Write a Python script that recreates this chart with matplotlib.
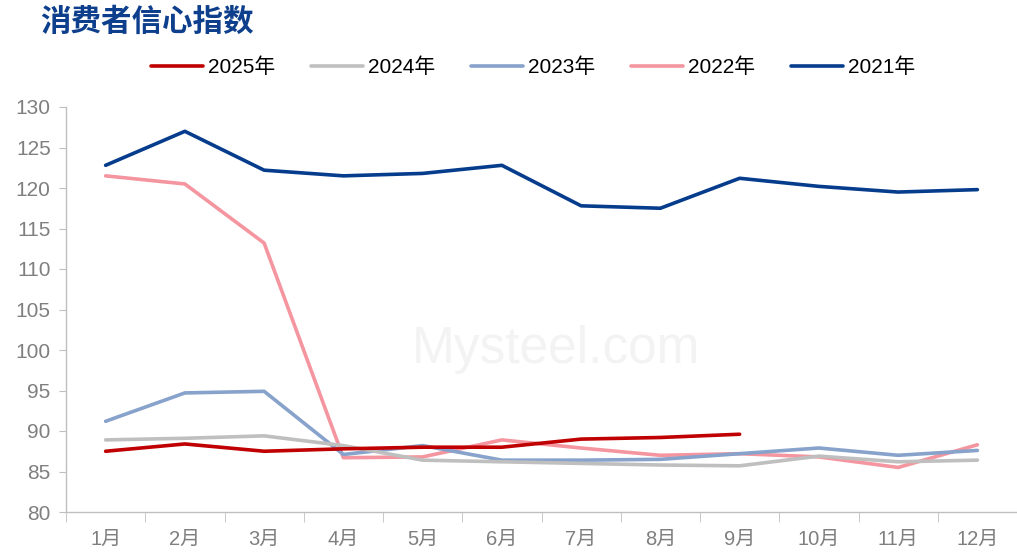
import numpy as np
import matplotlib
matplotlib.use("Agg")
import matplotlib.pyplot as plt

plt.rcParams['font.family'] = ['Liberation Sans', 'Noto Sans CJK SC', 'DejaVu Sans']

# month labels
months = ["1月", "2月", "3月", "4月", "5月", "6月", "7月", "8月", "9月", "10月", "11月", "12月"]

# consumer confidence index by year
cci_2025 = [87.5, 88.4, 87.5, 87.8, 88.0, 88.0, 89.0, 89.2, 89.6]
cci_2024 = [88.9, 89.1, 89.4, 88.2, 86.4, 86.2, 86.0, 85.8, 85.7, 86.9, 86.2, 86.4]
cci_2023 = [91.2, 94.7, 94.9, 87.1, 88.2, 86.4, 86.4, 86.5, 87.2, 87.9, 87.0, 87.6]
cci_2022 = [121.5, 120.5, 113.2, 86.7, 86.8, 88.9, 87.9, 87.0, 87.2, 86.8, 85.5, 88.3]
cci_2021 = [122.8, 127.0, 122.2, 121.5, 121.8, 122.8, 117.8, 117.5, 121.2, 120.2, 119.5, 119.8]

series = [
    ("2025年", cci_2025, "#C00000"),
    ("2024年", cci_2024, "#BFBFBF"),
    ("2023年", cci_2023, "#87A2CB"),
    ("2022年", cci_2022, "#F4959F"),
    ("2021年", cci_2021, "#063C8C"),
]

fig = plt.figure(figsize=(10.17, 5.56), dpi=100)
ax = fig.add_axes([66 / 1017, 1 - 512 / 556, 1 - 66 / 1017, (512 - 107) / 556])

# faint watermark behind the lines
ax.text(0.515, 0.4, "Mysteel.com", transform=ax.transAxes, fontsize=37, color="#F3F3F3",
        ha="center", va="center", zorder=0)

# draw older years first so 2025 ends up on top like the original
lines = {}
for name, vals, color in reversed(series):
    x = np.arange(1, len(vals) + 1)
    ln, = ax.plot(x, vals, color=color, lw=2.6, solid_capstyle="round", label=name, zorder=2)
    lines[name] = ln

ax.set_ylim(80, 130)
ax.set_yticks(range(80, 131, 5))
ax.set_xlim(0.5, 0.5 + 951 / 79.5)
ax.set_xticks(range(1, 13))
ax.set_xticklabels(months)
ax.set_xticks(np.arange(0.5, 13, 1), minor=True)

for s in ["top", "right"]:
    ax.spines[s].set_visible(False)
for s in ["left", "bottom"]:
    ax.spines[s].set_color("#BFBFBF")
    ax.spines[s].set_linewidth(1.0)

ax.tick_params(axis="y", colors="#BFBFBF", labelcolor="#7F7F7F", labelsize=15, length=5, pad=6)
ax.tick_params(axis="x", which="major", length=0, labelcolor="#7F7F7F", labelsize=14.5, pad=13)
ax.tick_params(axis="x", which="minor", length=7, color="#BFBFBF")

fig.text(40 / 1017, 1 - 22 / 556, "消费者信心指数", fontsize=22, fontweight="bold",
         color="#0E3F8C", family=['Noto Sans CJK SC'], va="center", ha="left")

handles = [lines[name] for name, _, _ in series]
fig.legend(handles, [h.get_label() for h in handles], loc="center",
           bbox_to_anchor=(533 / 1017, 1 - 67 / 556), ncol=5, frameon=False,
           handlelength=2.5, columnspacing=1.7, handletextpad=0.25,
           prop={'family': ['Liberation Sans', 'Noto Sans CJK SC'], 'size': 15})

fig.savefig("out.png", dpi=100)
